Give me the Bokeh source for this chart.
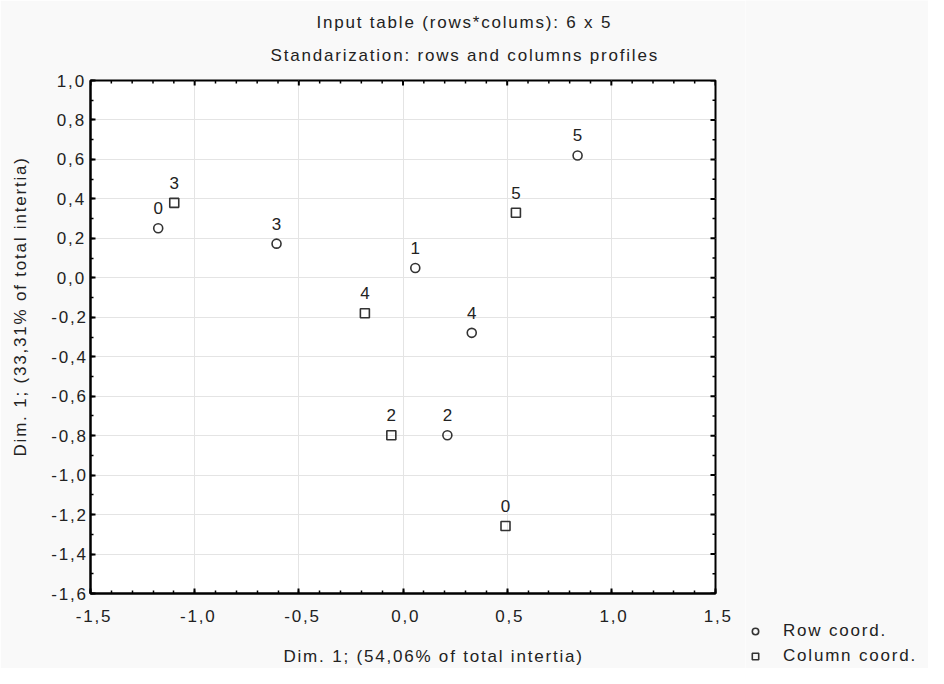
from bokeh.plotting import figure
from bokeh.layouts import row, column
from bokeh.models import (ColumnDataSource, FixedTicker, CustomJSTickFormatter,
                          Legend, LegendItem, Title)
from bokeh.core.properties import value
from bokeh.embed import file_html
from bokeh.resources import INLINE

# ---- data ----
row_labels = ["0", "1", "2", "3", "4", "5"]
row_x = [-1.175, 0.059, 0.213, -0.607, 0.330, 0.838]
row_y = [0.251, 0.050, -0.798, 0.173, -0.279, 0.620]

col_labels = ["0", "2", "3", "4", "5"]
col_x = [0.492, -0.056, -1.098, -0.183, 0.542]
col_y = [-1.258, -0.798, 0.380, -0.180, 0.330]

x_ticks = [-1.5, -1.0, -0.5, 0.0, 0.5, 1.0, 1.5]
y_ticks = [-1.6, -1.4, -1.2, -1.0, -0.8, -0.6, -0.4, -0.2, 0.0, 0.2, 0.4, 0.6, 0.8, 1.0]
x_minor = [round(-1.5 + 0.1 * i, 1) for i in range(31)]
y_minor = [round(-1.6 + 0.1 * i, 1) for i in range(27)]

title_lines = ["Input table (rows*colums): 6 x 5", "Standarization: rows and columns profiles"]
x_title = "Dim. 1; (54,06% of total intertia)"
y_title = "Dim. 1; (33,31% of total intertia)"
legend_labels = ["Row coord.", "Column coord."]

FONT = "Liberation Sans"
TXT = "#222222"
MK = "#333333"
BG = "#f9f9f9"
SPACING = {"letter-spacing": "1.8px"}
X0, X1 = -1.5, 1.5
Y0, Y1 = -1.6, 1.0

W, H = 928, 668
ML, MR, MT, MB = 90, 30, 80, 72
FW = 625                      # frame width in px
W1 = ML + FW + MR
W2 = W - W1
PX_X = (X1 - X0) / FW
PX_Y = (Y1 - Y0) / (H - MT - MB)

p = figure(width=W1, height=H, output_backend="svg", toolbar_location=None,
           x_range=(X0, X1), y_range=(Y0, Y1),
           min_border_left=ML, min_border_right=MR, min_border_top=MT, min_border_bottom=MB,
           background_fill_color="white", border_fill_color=BG)
p.styles = SPACING
p.outline_line_color = "black"
p.outline_line_width = 2

fmt = CustomJSTickFormatter(code="var t = Math.abs(tick) < 1e-9 ? 0 : tick; return t.toFixed(1).replace('.', ',');")

p.xaxis.ticker = FixedTicker(ticks=x_ticks, minor_ticks=x_minor)
p.yaxis.ticker = FixedTicker(ticks=y_ticks, minor_ticks=y_minor)
for ax in (p.xaxis[0], p.yaxis[0]):
    ax.formatter = fmt
    ax.major_label_text_font = FONT
    ax.major_label_text_font_size = "17px"
    ax.major_label_text_color = TXT
    ax.axis_label_text_font = FONT
    ax.axis_label_text_font_size = "17px"
    ax.axis_label_text_font_style = "normal"
    ax.axis_label_text_color = TXT
    ax.axis_line_color = "black"
    ax.axis_line_width = 2
    ax.major_tick_in = 5
    ax.major_tick_out = 0
    ax.minor_tick_in = 3
    ax.minor_tick_out = 0
    ax.major_tick_line_color = "black"
    ax.major_tick_line_width = 2
    ax.minor_tick_line_color = "black"
    ax.minor_tick_line_width = 1.5
p.xaxis.major_label_standoff = 16
p.yaxis.major_label_standoff = 10
p.xaxis.axis_label = x_title
p.yaxis.axis_label = y_title
p.xaxis.axis_label_standoff = 22
p.yaxis.axis_label_standoff = 18

# inward ticks on the top and right edges of the frame
top_major = list(x_ticks)
top_minor = [t for t in x_minor if t not in x_ticks]
right_major = list(y_ticks)
right_minor = [t for t in y_minor if t not in y_ticks]
p.segment(x0=top_major, y0=[Y1] * len(top_major), x1=top_major,
          y1=[Y1 - 5 * PX_Y] * len(top_major), line_color="black", line_width=2)
p.segment(x0=top_minor, y0=[Y1] * len(top_minor), x1=top_minor,
          y1=[Y1 - 3 * PX_Y] * len(top_minor), line_color="black", line_width=1.5)
p.segment(x0=[X1] * len(right_major), y0=right_major, x1=[X1 - 5 * PX_X] * len(right_major),
          y1=right_major, line_color="black", line_width=2)
p.segment(x0=[X1] * len(right_minor), y0=right_minor, x1=[X1 - 3 * PX_X] * len(right_minor),
          y1=right_minor, line_color="black", line_width=1.5)

p.xgrid.ticker = FixedTicker(ticks=x_ticks)
p.ygrid.ticker = FixedTicker(ticks=y_ticks)
p.xgrid.grid_line_color = "#e4e4e4"
p.ygrid.grid_line_color = "#e4e4e4"

rsrc = ColumnDataSource(dict(x=row_x, y=row_y, t=row_labels))
csrc = ColumnDataSource(dict(x=col_x, y=col_y, t=col_labels))

p.scatter("x", "y", source=rsrc, marker="circle", size=9, fill_color=None,
          line_color=MK, line_width=1.6)
p.scatter("x", "y", source=csrc, marker="square", size=9, fill_color=None,
          line_color=MK, line_width=1.6)
for src in (rsrc, csrc):
    p.text("x", "y", text="t", source=src, text_align="center", text_baseline="middle",
           y_offset=-20, text_font_size="17px", text_color=TXT,
           text_font=value(FONT))

# titles (second line added first: closest to the frame), centred on the whole page
title_widths = [296, 388]     # rendered widths in px (used to centre on the page)
page_centre = W / 2
for line, wdt, st in zip(reversed(title_lines), reversed(title_widths), [31, -6]):
    p.add_layout(Title(text=line, align="left", offset=page_centre - ML - wdt / 2, standoff=st,
                       text_font=FONT, text_font_size="17px", text_font_style="normal",
                       text_color=TXT), "above")

# legend panel to the right of the chart
q = figure(width=W2, height=H, output_backend="svg", toolbar_location=None,
           x_range=(0, 1), y_range=(0, 1), min_border=0,
           x_axis_location=None, y_axis_location=None,
           background_fill_color=BG, border_fill_color=BG)
q.styles = SPACING
q.title.visible = False
q.outline_line_color = None
q.grid.visible = False
lr1 = q.scatter(x=[-5], y=[-5], marker="circle", size=9, fill_color=None, line_color=MK, line_width=1.6)
lr2 = q.scatter(x=[-5], y=[-5], marker="square", size=9, fill_color=None, line_color=MK, line_width=1.6)
legend = Legend(items=[LegendItem(label=legend_labels[0], renderers=[lr1]),
                       LegendItem(label=legend_labels[1], renderers=[lr2])],
                location=(2, 2), orientation="vertical",
                label_text_font=FONT, label_text_font_size="17px", label_text_color=TXT,
                glyph_width=16, glyph_height=20, label_height=20, label_standoff=20,
                spacing=5, padding=0, margin=0, border_line_color=None,
                background_fill_alpha=0)
q.add_layout(legend, "center")

lay = row(p, column(q, spacing=0), spacing=0)
open("out.html", "w").write(file_html(lay, INLINE))
